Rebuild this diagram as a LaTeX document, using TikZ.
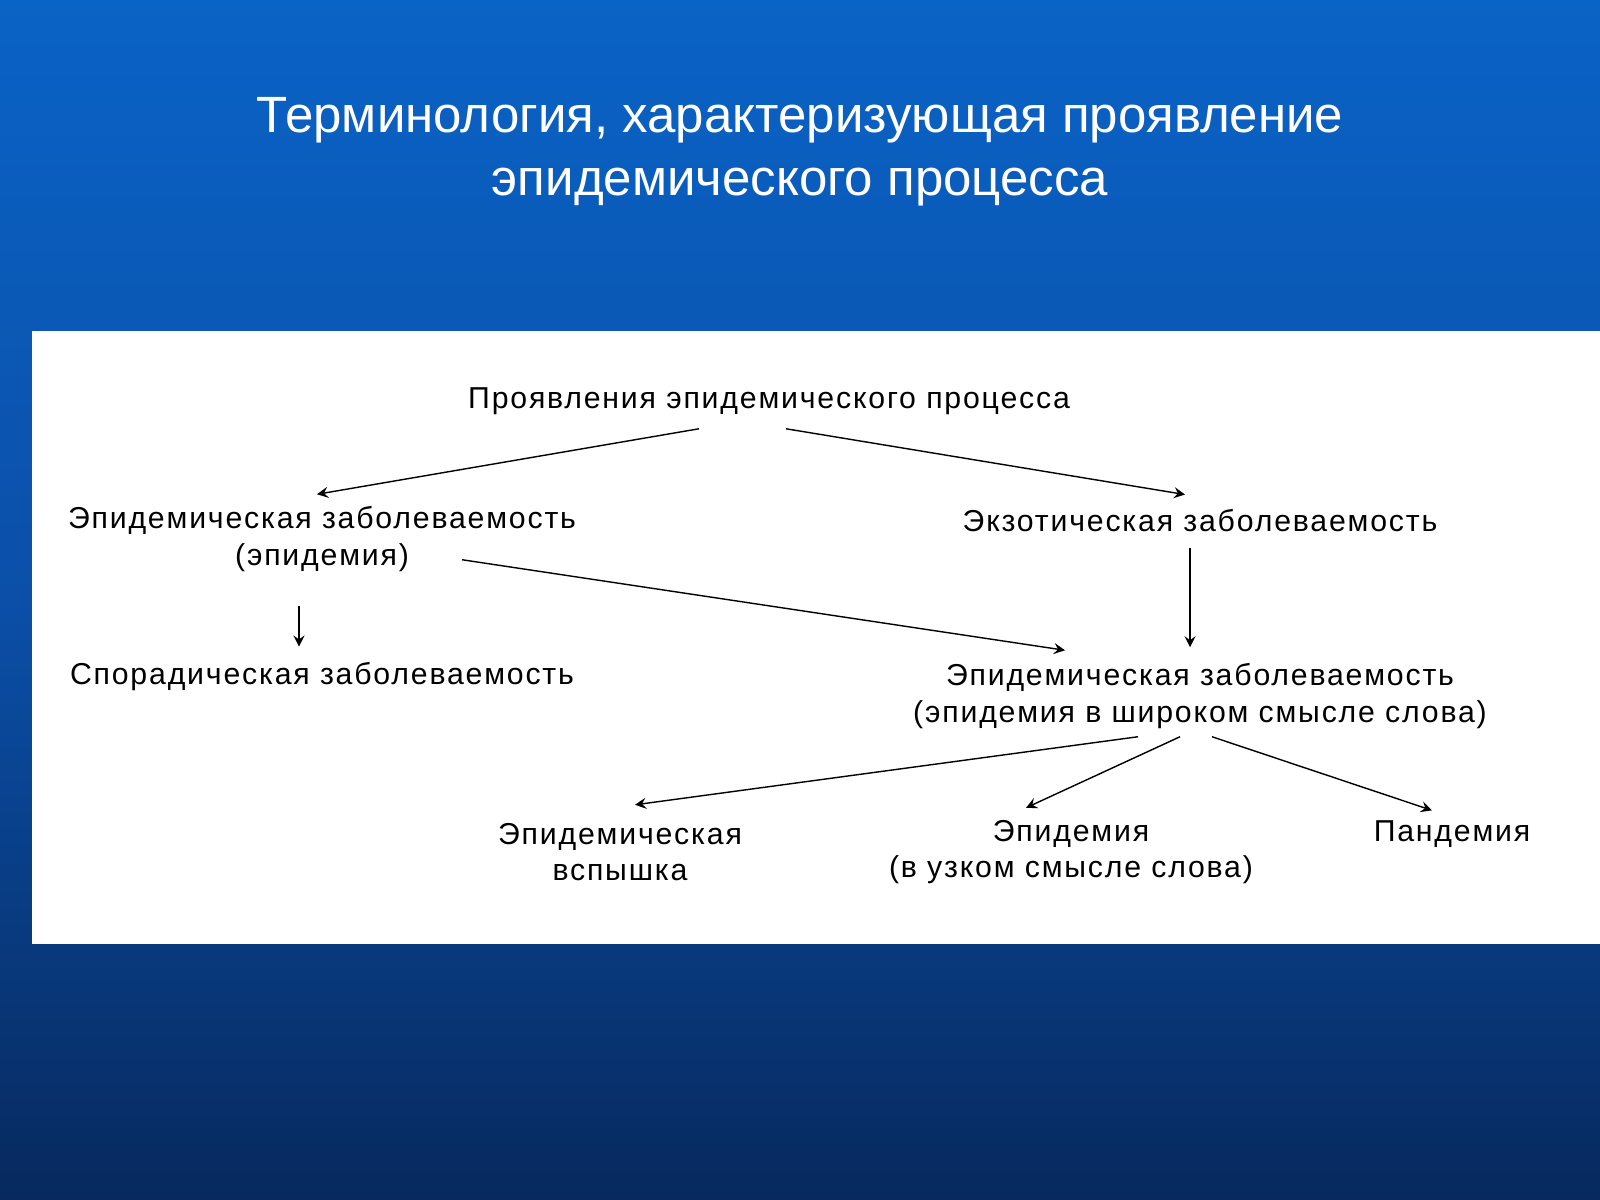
\documentclass[tikz,border=0pt]{standalone}
\usepackage{fontspec}
\setmainfont{Liberation Sans}
\usetikzlibrary{calc}
\definecolor{bgtop}{HTML}{0A63C6}
\definecolor{bgmid}{HTML}{0B4FA8}
\definecolor{bgbot}{HTML}{07295E}
\begin{document}
\begin{tikzpicture}[x=0.01cm,y=-0.01cm,
    term/.style={align=center,font=\fontsize{8.6pt}{10.4pt}\selectfont\addfontfeatures{LetterSpace=6},inner sep=1pt},
    arr/.style={->,thin,>=stealth}]
        \useasboundingbox (0,0) rectangle (1600,1200);
        \shade[top color=bgtop, bottom color=bgmid] (0,0) rectangle (1600,600);
        \shade[top color=bgmid, bottom color=bgbot] (0,600) rectangle (1600,1200);
        \node[text=white, align=center, font=\fontsize{14.5pt}{18pt}\selectfont] (title) at (800,152)
            {Терминология, характеризующая проявление\\эпидемического процесса};
        \fill[white] (32,331) rectangle (1600,944);

        \node[term] (top) at (769,401) {Проявления эпидемического процесса};
        \node[term] (epid) at (322,539) {Эпидемическая заболеваемость\\(эпидемия)};
        \node[term] (exot) at (1200,521) {Экзотическая заболеваемость};
        \node[term] (spor) at (322,677) {Спорадическая заболеваемость};
        \node[term] (wide) at (1200,696) {Эпидемическая заболеваемость\\(эпидемия в широком смысле слова)};
        \node[term] (outb) at (620,852) {Эпидемическая\\вспышка};
        \node[term] (narr) at (1071,852) {Эпидемия\\(в узком смысле слова)};
        \node[term] (pand) at (1452,834) {Пандемия};

        \draw[arr] ($(top.south)+(-70,10)$) -- ($(epid.north)+(-5,-8)$);
        \draw[arr] ($(top.south)+(17,10)$) -- ($(exot.north)+(-15,-11)$);
        \draw[arr] ($(epid.south)+(-23,30)$) -- ($(spor.north)+(-23,-12)$);
        \draw[arr] ($(epid.south)+(140,-16)$) -- ($(wide.north)+(-135,-9)$);
        \draw[arr] ($(exot.south)+(-10,12)$) -- ($(wide.north)+(-10,-12)$);
        \draw[arr] ($(wide.south)+(-62,4)$) -- ($(outb.north)+(15,-14)$);
        \draw[arr] ($(wide.south)+(-20,4)$) -- ($(narr.north)+(-45,-8)$);
        \draw[arr] ($(wide.south)+(12,4)$) -- ($(pand.north)+(-20,-6)$);
    \end{tikzpicture}
\end{document}
